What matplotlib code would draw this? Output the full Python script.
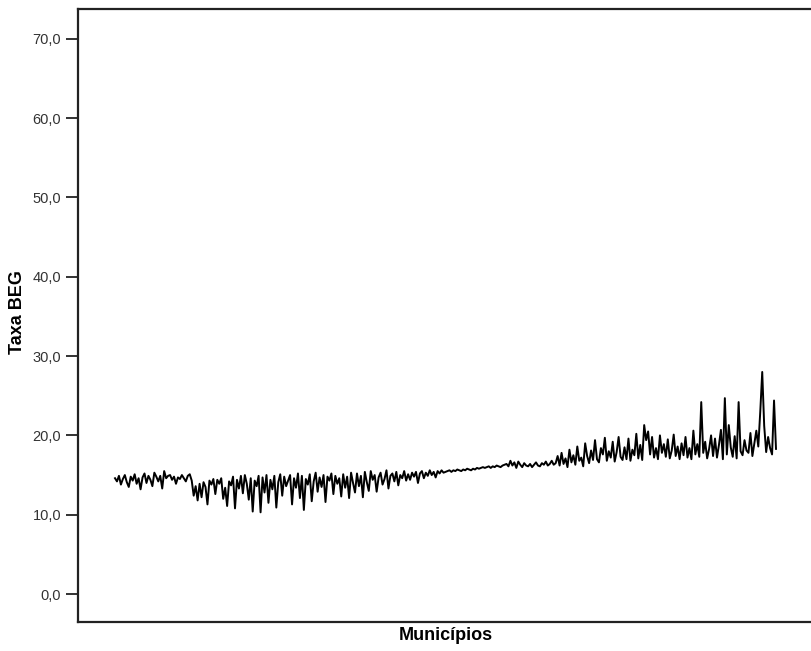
import numpy as np
import matplotlib
matplotlib.use("Agg")
import matplotlib.pyplot as plt
from matplotlib.ticker import FuncFormatter

plt.rcParams['font.family'] = ['Liberation Sans', 'DejaVu Sans']

# --- Taxa BEG por município (ordem do eixo x) ---
seg_a = [14.6, 14.2, 14.9, 13.8, 14.5, 15.0, 14.1, 13.5, 14.8, 14.3, 15.1, 13.9, 14.6, 13.2,
         14.7, 15.2, 14.0, 14.9, 14.4, 13.6, 15.3, 14.8, 14.2, 14.9, 13.3, 15.5, 14.6, 14.9,
         15.0, 14.4, 14.8, 13.9, 14.7, 14.5, 15.0, 14.6, 14.2, 14.9, 15.1, 14.3]
seg_b = [12.4, 13.6, 11.8, 13.9, 12.2, 14.1, 13.5, 11.3, 14.3, 13.8, 14.5, 12.6, 14.4, 13.9,
         14.6, 12.0, 13.4, 11.1, 14.2, 13.7, 14.8, 10.8, 14.4, 13.3, 14.9, 12.7, 15.0, 13.9,
         11.9, 14.6, 10.4, 14.3, 13.6, 14.9]
seg_c = [10.3, 14.7, 12.8, 15.0, 11.5, 14.4, 13.2, 14.9, 10.9, 14.1, 15.1, 12.4, 14.8, 13.6,
         14.3, 15.0, 11.3, 14.6, 13.4, 15.2, 12.1, 14.9, 10.6, 14.5, 13.8, 15.1, 11.7, 14.2,
         15.3, 12.9, 14.7, 13.5, 15.0, 11.6, 14.8, 14.3, 15.2, 12.6, 14.9, 13.9]
seg_d = [14.6, 12.3, 15.1, 13.4, 14.8, 12.1, 15.3, 14.0, 12.8, 15.2, 13.6, 14.9, 12.2, 15.4,
         14.1, 13.0, 15.5, 14.4, 15.0, 12.9, 14.7, 15.3, 13.8, 14.5, 15.6, 13.3, 14.9, 15.2,
         14.2, 15.4, 13.7, 15.0, 14.6, 15.5, 14.3]
seg_e = [15.1, 14.4, 15.3, 14.8, 15.4, 14.0, 15.2, 15.5, 14.6, 15.3, 14.9, 15.6, 15.0, 15.4,
         14.7, 15.5, 15.2, 15.6, 15.3, 15.4]
seg_f = [15.5, 15.6, 15.4, 15.6, 15.5, 15.7, 15.6, 15.5, 15.7, 15.6, 15.8, 15.7, 15.6, 15.8,
         15.7, 15.9, 15.8, 15.9, 16.0, 15.9, 16.0, 16.1, 15.9, 16.1, 16.0, 16.2, 16.1, 16.0,
         16.2, 16.3]
seg_g = [16.4, 16.1, 16.8, 16.2, 16.6, 15.9, 16.7, 16.3, 16.0, 16.5, 16.2, 16.1, 16.4, 16.0,
         16.3, 16.6, 16.2, 16.1, 16.5, 16.3, 16.7, 16.2, 16.4, 16.8, 16.3]
seg_h = [16.5, 17.4, 16.2, 17.8, 16.4, 17.1, 16.0, 18.2, 16.6, 17.5, 16.3, 18.6, 16.8, 17.2,
         16.1, 19.0, 17.4, 16.5, 18.1, 16.9, 19.4, 17.0, 16.6, 18.4, 17.6, 19.7, 16.8, 18.0,
         17.2, 19.2, 16.7, 17.9, 19.8, 17.3, 16.9]
seg_i = [18.5, 17.0, 19.6, 16.8, 18.2, 17.5, 20.2, 17.1, 18.8, 16.9, 21.3, 19.4, 20.5, 17.6,
         19.8, 17.2, 18.4, 17.0, 20.0, 17.8, 18.9, 17.3, 19.5, 17.1, 18.1, 20.1, 17.4, 18.6,
         17.0, 19.0]
seg_j = [17.5, 19.8, 17.2, 18.4, 17.0, 20.6, 17.6, 18.9, 17.3, 24.2, 17.8, 19.2, 17.1, 18.3,
         20.0, 17.4, 19.6, 17.2, 18.8, 20.7, 17.0, 24.7, 17.6, 21.3, 18.5, 17.3, 19.9, 17.1,
         24.2, 18.0, 17.5, 19.4, 18.1, 17.8, 20.3, 17.4, 19.0, 20.6, 18.6, 23.0, 28.0, 21.2,
         17.9, 19.8, 18.4, 17.6, 24.4, 18.3]

taxa_beg = seg_a + seg_b + seg_c + seg_d + seg_e + seg_f + seg_g + seg_h + seg_i + seg_j
y_ticks = [0, 10, 20, 30, 40, 50, 60, 70]

W, H = 811, 651
fig = plt.figure(figsize=(W / 100, H / 100), dpi=100)

# axes frame in pixels (right edge runs off the picture, as in the original)
ax_l, ax_r, ax_t, ax_b = 78, 845, 9, 622
ax = fig.add_axes([ax_l / W, 1 - ax_b / H, (ax_r - ax_l) / W, (ax_b - ax_t) / H])

n = len(taxa_beg)
x = np.arange(n)
ax.plot(x, taxa_beg, color='black', linewidth=1.4)

# x: first point at px 115, last at px 776
ppi = (776 - 115) / (n - 1)
ax.set_xlim(-(115 - ax_l) / ppi, (n - 1) + (ax_r - 776) / ppi)
ax.set_ylim(-3.53, 73.77)

ax.set_yticks(y_ticks)
ax.yaxis.set_major_formatter(FuncFormatter(lambda v, p: f"{v:.1f}".replace('.', ',')))
ax.tick_params(axis='y', direction='out', length=9, width=1.3, color='#222222',
               labelsize=10.5, labelcolor='#333333', pad=3)
ax.set_xticks([])

for s in ax.spines.values():
    s.set_linewidth(1.6)
    s.set_color('#222222')

ax.set_ylabel('Taxa BEG', fontsize=13, fontweight='bold')
ax.yaxis.set_label_coords((18 - ax_l) / (ax_r - ax_l), 1 - (312 - ax_t) / (ax_b - ax_t))
ax.set_xlabel('Municípios', fontsize=13, fontweight='bold')
ax.xaxis.set_label_coords((446 - ax_l) / (ax_r - ax_l), -(635 - ax_b) / (ax_b - ax_t))
ax.xaxis.label.set_va('center')
ax.yaxis.label.set_va('center')

fig.savefig('out.png', dpi=100)
